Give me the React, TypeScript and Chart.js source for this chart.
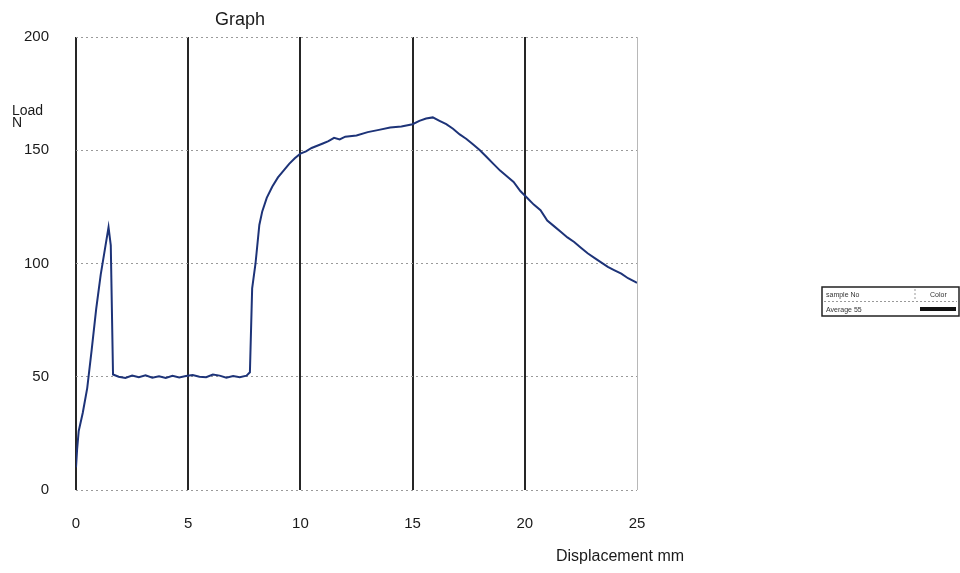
import React, { useEffect, useRef } from "react";
import { Chart, registerables } from "chart.js";

Chart.register(...registerables);

// Displacement (mm) and Load (N)
const displacement = [
  0.0, 0.05, 0.12, 0.3, 0.5, 0.7, 0.9, 1.1, 1.3, 1.45, 1.55, 1.65, 1.9, 2.2, 2.5, 2.8, 3.1, 3.4, 3.7, 4.0,
  4.3, 4.6, 4.9, 5.2, 5.5, 5.8, 6.1, 6.4, 6.7, 7.0, 7.3, 7.6, 7.75, 7.85, 8.0, 8.17, 8.3, 8.5, 8.75, 9.0,
  9.25, 9.5, 9.75, 10.0, 10.25, 10.5, 10.75, 11.0, 11.25, 11.5, 11.75, 12.0, 12.5, 13.0, 13.5, 14.0, 14.5, 15.0, 15.3, 15.6,
  15.9, 16.2, 16.5, 16.8, 17.1, 17.4, 17.7, 18.0, 18.3, 18.6, 18.9, 19.2, 19.5, 19.8, 20.1, 20.4, 20.7, 21.0, 21.3, 21.6,
  21.9, 22.2, 22.5, 22.8, 23.1, 23.4, 23.7, 24.0, 24.3, 24.6, 24.9, 25.0,
];
const load = [
  10, 18, 26, 34, 45, 62, 80, 95, 107, 116, 108, 51, 50, 49.5, 50.5, 49.8, 50.6, 49.6, 50.2, 49.5,
  50.4, 49.7, 50.3, 50.8, 50.0, 49.8, 51.0, 50.5, 49.6, 50.3, 49.8, 50.5, 52, 89, 100, 117, 123, 129, 134, 138,
  141, 144, 146.5, 148.5, 149.5, 151, 152, 153, 154, 155.5, 154.8, 156, 156.5, 158, 159, 160, 160.5, 161.5, 163, 164,
  164.5, 163, 161.5, 159.5, 157, 155, 152.5, 150, 147, 144, 141, 138.5, 136, 132, 129, 126, 123.5, 119, 116.5, 114,
  111.5, 109.5, 107, 104.5, 102.5, 100.5, 98.5, 97, 95.5, 93.5, 92, 91.5,
];

const xTicks = [0, 5, 10, 15, 20, 25];
const yTicks = [0, 50, 100, 150, 200];

const titleText = "Graph";
const yTitle = ["Load", "N"];
const xTitle = "Displacement mm";
const legendHeader = ["sample No", "Color"];
const legendRow = ["Average 55"];

export default function App() {
  const ref = useRef<HTMLCanvasElement | null>(null);

  useEffect(() => {
    if (!ref.current) return;
    const textPlugin = {
      id: "texts",
      afterDraw(chart: any) {
        const ctx = chart.ctx;
        ctx.save();
        ctx.fillStyle = "#1a1a1a";
        ctx.textBaseline = "alphabetic";
        ctx.textAlign = "left";
        ctx.font = "18px 'Liberation Sans', Arial, sans-serif";
        ctx.fillText(titleText, 215, 25);
        ctx.font = "14px 'Liberation Sans', Arial, sans-serif";
        ctx.fillText(yTitle[0], 12, 115);
        ctx.fillText(yTitle[1], 12, 127);
        ctx.font = "16px 'Liberation Sans', Arial, sans-serif";
        ctx.fillText(xTitle, 556, 561);

        // legend box
        const lx = 822, ly = 287, lw = 137, lh = 29;
        ctx.strokeStyle = "#222";
        ctx.lineWidth = 1.5;
        ctx.strokeRect(lx, ly, lw, lh);
        ctx.lineWidth = 1;
        ctx.strokeStyle = "#999";
        ctx.setLineDash([2, 2]);
        ctx.beginPath();
        ctx.moveTo(lx + 2, ly + 14.5);
        ctx.lineTo(lx + lw - 2, ly + 14.5);
        ctx.moveTo(lx + 93, ly + 2);
        ctx.lineTo(lx + 93, ly + 12);
        ctx.stroke();
        ctx.setLineDash([]);
        ctx.font = "7px 'Liberation Sans', Arial, sans-serif";
        ctx.fillStyle = "#333";
        ctx.fillText(legendHeader[0], lx + 4, ly + 10);
        ctx.fillText(legendHeader[1], lx + 108, ly + 10);
        ctx.fillText(legendRow[0], lx + 4, ly + 25);
        ctx.fillStyle = "#111";
        ctx.fillRect(lx + 98, ly + 20, 36, 4);
        ctx.restore();
      },
    };

    const chart = new Chart(ref.current, {
      type: "line",
      data: {
        datasets: [
          {
            data: displacement.map((x, i) => ({ x, y: load[i] })),
            borderColor: "#1d3378",
            borderWidth: 2,
            pointRadius: 0,
            tension: 0,
            fill: false,
          },
        ],
      },
      options: {
        responsive: false,
        animation: false,
        devicePixelRatio: 1,
        layout: { padding: { top: 37, right: 323, left: 0, bottom: 0 } },
        plugins: { legend: { display: false }, tooltip: { enabled: false }, title: { display: false } },
        scales: {
          x: {
            type: "linear",
            min: 0,
            max: 25,
            afterBuildTicks: (s: any) => {
              s.ticks = xTicks.map((v) => ({ value: v }));
            },
            afterFit: (s: any) => {
              s.height = 83;
            },
            border: { display: false },
            grid: {
              drawTicks: false,
              color: (c: any) => (c.tick && c.tick.value === 25 ? "#b8b8b8" : "#262626"),
              lineWidth: (c: any) => (c.tick && c.tick.value === 25 ? 1 : 2),
            },
            ticks: {
              padding: 25,
              color: "#1a1a1a",
              font: { family: "'Liberation Sans', Arial, sans-serif", size: 15 },
              maxRotation: 0,
            },
          },
          y: {
            min: 0,
            max: 200,
            afterBuildTicks: (s: any) => {
              s.ticks = yTicks.map((v) => ({ value: v }));
            },
            afterFit: (s: any) => {
              s.width = 76;
            },
            border: { display: false, dash: [2, 3] },
            grid: { drawTicks: false, color: "#9a9a9a", lineWidth: 1 },
            ticks: {
              padding: 27,
              color: "#1a1a1a",
              font: { family: "'Liberation Sans', Arial, sans-serif", size: 15 },
            },
          },
        },
      },
      plugins: [textPlugin],
    });
    return () => chart.destroy();
  }, []);

  return (
    <div style={{ position: "absolute", left: 0, top: 0, width: 960, height: 573, background: "#fff" }}>
      <canvas ref={ref} width={960} height={573} style={{ width: 960, height: 573, display: "block" }} />
    </div>
  );
}
